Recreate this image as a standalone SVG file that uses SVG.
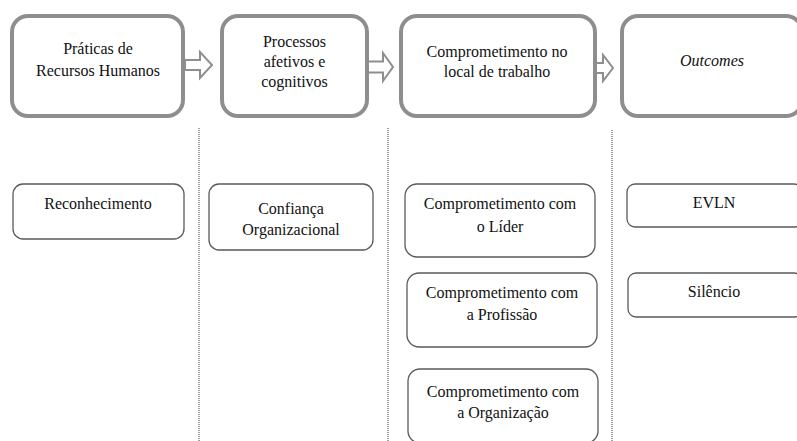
<svg xmlns="http://www.w3.org/2000/svg" width="797" height="441" viewBox="0 0 797 441">
<style>
.big{fill:#fff;stroke:#8e8e8e;stroke-width:4}
.small{fill:#fff;stroke:#5a5a5a;stroke-width:1.3}
.arr{fill:#fff;stroke:#8e8e8e;stroke-width:2}
.div{stroke:#444;stroke-width:1;stroke-dasharray:1 1;fill:none}
</style>
<rect width="797" height="441" fill="#fff"/>
<g id="connectors">
<path class="arr" d="M185,60 H200 V52 L212,65 L200,78 V70 H185 Z"/>
<path class="arr" d="M366,61.5 H383 V53 L393,67 L383,81 V72.5 H366 Z"/>
<path class="arr" d="M585,63 H603 V55 L613,68 L603,81 V73 H585 Z"/>
<line class="div" x1="199" y1="128" x2="199" y2="441"/>
<line class="div" x1="388" y1="128" x2="388" y2="441"/>
<line class="div" x1="612" y1="130" x2="612" y2="441"/>
</g>
<g id="n1"><rect class="big" x="12" y="16" width="171" height="100" rx="16"/>
<text x="98" y="54" style="font-family:'Liberation Serif';font-size:16px;fill:#111;text-anchor:middle">Práticas de</text>
<text x="98" y="76" style="font-family:'Liberation Serif';font-size:16px;fill:#111;text-anchor:middle">Recursos Humanos</text></g>
<g id="n2"><rect class="big" x="222" y="16" width="145" height="100" rx="16"/>
<text x="294.5" y="47" style="font-family:'Liberation Serif';font-size:16px;fill:#111;text-anchor:middle">Processos</text>
<text x="294.5" y="67" style="font-family:'Liberation Serif';font-size:16px;fill:#111;text-anchor:middle">afetivos e</text>
<text x="294.5" y="87" style="font-family:'Liberation Serif';font-size:16px;fill:#111;text-anchor:middle">cognitivos</text></g>
<g id="n3"><rect class="big" x="401" y="16" width="194" height="100" rx="16"/>
<text x="497" y="57" style="font-family:'Liberation Serif';font-size:16px;fill:#111;text-anchor:middle">Comprometimento no</text>
<text x="497" y="77" style="font-family:'Liberation Serif';font-size:16px;fill:#111;text-anchor:middle">local de trabalho</text></g>
<g id="n4"><rect class="big" x="622" y="16" width="180" height="100" rx="16"/>
<text x="712" y="66" style="font-family:'Liberation Serif';font-size:16px;fill:#111;text-anchor:middle;font-style:italic">Outcomes</text></g>
<g id="n5"><rect class="small" x="13" y="184" width="171" height="55" rx="10"/>
<text x="98" y="209" style="font-family:'Liberation Serif';font-size:16px;fill:#111;text-anchor:middle">Reconhecimento</text></g>
<g id="n6"><rect class="small" x="209" y="184" width="164" height="66" rx="10"/>
<text x="291" y="214" style="font-family:'Liberation Serif';font-size:16px;fill:#111;text-anchor:middle">Confiança</text>
<text x="291" y="235" style="font-family:'Liberation Serif';font-size:16px;fill:#111;text-anchor:middle">Organizacional</text></g>
<g id="n7"><rect class="small" x="405" y="184" width="190" height="73" rx="12"/>
<text x="500" y="209" style="font-family:'Liberation Serif';font-size:16px;fill:#111;text-anchor:middle">Comprometimento com</text>
<text x="500" y="232" style="font-family:'Liberation Serif';font-size:16px;fill:#111;text-anchor:middle">o Líder</text></g>
<g id="n8"><rect class="small" x="407" y="273" width="190" height="74" rx="12"/>
<text x="502" y="298" style="font-family:'Liberation Serif';font-size:16px;fill:#111;text-anchor:middle">Comprometimento com</text>
<text x="502" y="320" style="font-family:'Liberation Serif';font-size:16px;fill:#111;text-anchor:middle">a Profissão</text></g>
<g id="n9"><rect class="small" x="408" y="369" width="190" height="74" rx="12"/>
<text x="503" y="397" style="font-family:'Liberation Serif';font-size:16px;fill:#111;text-anchor:middle">Comprometimento com</text>
<text x="503" y="418" style="font-family:'Liberation Serif';font-size:16px;fill:#111;text-anchor:middle">a Organização</text></g>
<g id="n10"><rect class="small" x="627" y="184" width="175" height="43" rx="8"/>
<text x="714" y="208" style="font-family:'Liberation Serif';font-size:16px;fill:#111;text-anchor:middle">EVLN</text></g>
<g id="n11"><rect class="small" x="628" y="273" width="174" height="44" rx="8"/>
<text x="714" y="297" style="font-family:'Liberation Serif';font-size:16px;fill:#111;text-anchor:middle">Silêncio</text></g>
</svg>
